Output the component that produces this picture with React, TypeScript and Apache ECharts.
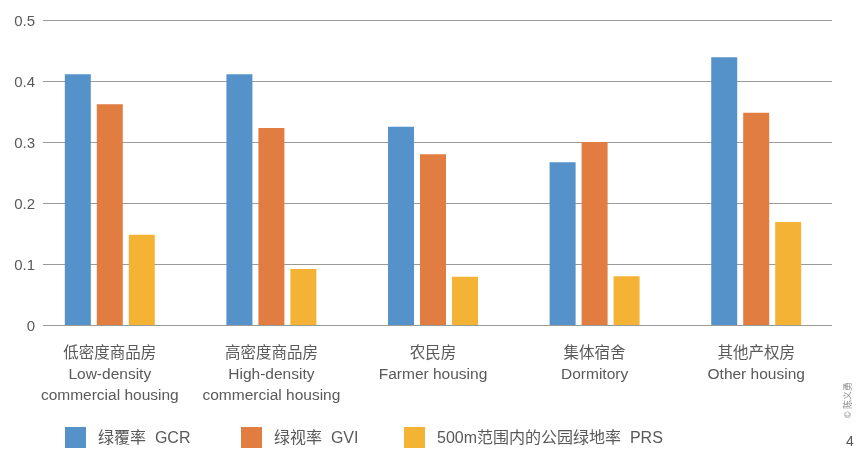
import React, { useEffect, useRef } from "react";
import * as echarts from "echarts";

const categories = [
  "低密度商品房\nLow-density\ncommercial housing",
  "高密度商品房\nHigh-density\ncommercial housing",
  "农民房\nFarmer housing",
  "集体宿舍\nDormitory",
  "其他产权房\nOther housing",
];
const seriesNames = ["绿覆率  GCR", "绿视率  GVI", "500m范围内的公园绿地率  PRS"];
const gcr = [0.411, 0.411, 0.325, 0.267, 0.439];
const gvi = [0.362, 0.323, 0.28, 0.3, 0.348];
const prs = [0.148, 0.092, 0.079, 0.08, 0.169];
const yTicks = [0, 0.1, 0.2, 0.3, 0.4, 0.5];
const colors = ["#5592c9", "#e27d42", "#f5b336"];

const FONT = "'Liberation Sans', Arial, 'Noto Sans CJK SC', sans-serif";
const TEXT = "#595959";

export default function App() {
  const ref = useRef<HTMLDivElement>(null);
  useEffect(() => {
    if (!ref.current) return;
    document.body.style.margin = "0";
    const chart = echarts.init(ref.current, undefined, { renderer: "svg" });
    const values = [gcr, gvi, prs];
    const legendLefts = [65, 241, 404];
    chart.setOption({
      animation: false,
      textStyle: { fontFamily: FONT },
      grid: [
        { left: 29, right: 19, top: 20, bottom: 124 },
        { left: 43, right: 24, top: 20, bottom: 124 },
      ],
      xAxis: [
        {
          type: "category",
          gridIndex: 0,
          data: categories,
          axisLine: { show: false },
          axisTick: { show: false },
          axisLabel: {
            color: TEXT,
            fontSize: 15.5,
            lineHeight: 21,
            margin: 17,
            fontFamily: FONT,
            interval: 0,
          },
        },
        {
          type: "value",
          gridIndex: 1,
          show: false,
          min: 0,
          max: 1,
        },
      ],
      yAxis: [
        {
          type: "value",
          gridIndex: 0,
          min: 0,
          max: 0.5,
          interval: 0.1,
          show: false,
          splitLine: { show: false },
        },
        {
          type: "value",
          gridIndex: 1,
          min: yTicks[0],
          max: yTicks[yTicks.length - 1],
          interval: 0.1,
          axisLine: { show: false },
          axisTick: { show: false },
          axisLabel: {
            color: TEXT,
            fontSize: 15,
            margin: 8,
            fontFamily: FONT,
            formatter: (v: number) => String(Math.round(v * 10) / 10),
          },
          splitLine: { show: true, lineStyle: { color: "#9a9a9a", width: 1.2 } },
        },
      ],
      legend: seriesNames.map((name, i) => ({
        data: [name],
        left: legendLefts[i],
        top: 427,
        itemWidth: 21,
        itemHeight: 21,
        icon: "rect",
        padding: 0,
        textStyle: {
          color: TEXT,
          fontSize: 16,
          fontFamily: FONT,
          padding: [0, 0, 0, 7],
        },
      })),
      series: seriesNames.map((name, i) => ({
        name,
        type: "bar",
        xAxisIndex: 0,
        yAxisIndex: 0,
        data: values[i],
        barWidth: 26,
        barGap: "23%",
        itemStyle: { color: colors[i] },
      })),
      graphic: [
        {
          type: "text",
          x: 848,
          y: 400,
          rotation: Math.PI / 2,
          style: {
            text: "© 陈义勇",
            fontSize: 9,
            fill: "#8a8a8a",
            align: "center",
            verticalAlign: "middle",
            fontFamily: FONT,
          },
        },
        {
          type: "text",
          x: 850,
          y: 441,
          style: {
            text: "4",
            fontSize: 14,
            fill: "#555555",
            align: "center",
            verticalAlign: "middle",
            fontFamily: FONT,
          },
        },
      ],
    });
    return () => chart.dispose();
  }, []);
  return (
    <div
      ref={ref}
      style={{ position: "fixed", left: 0, top: 0, width: 856, height: 449 }}
    />
  );
}
